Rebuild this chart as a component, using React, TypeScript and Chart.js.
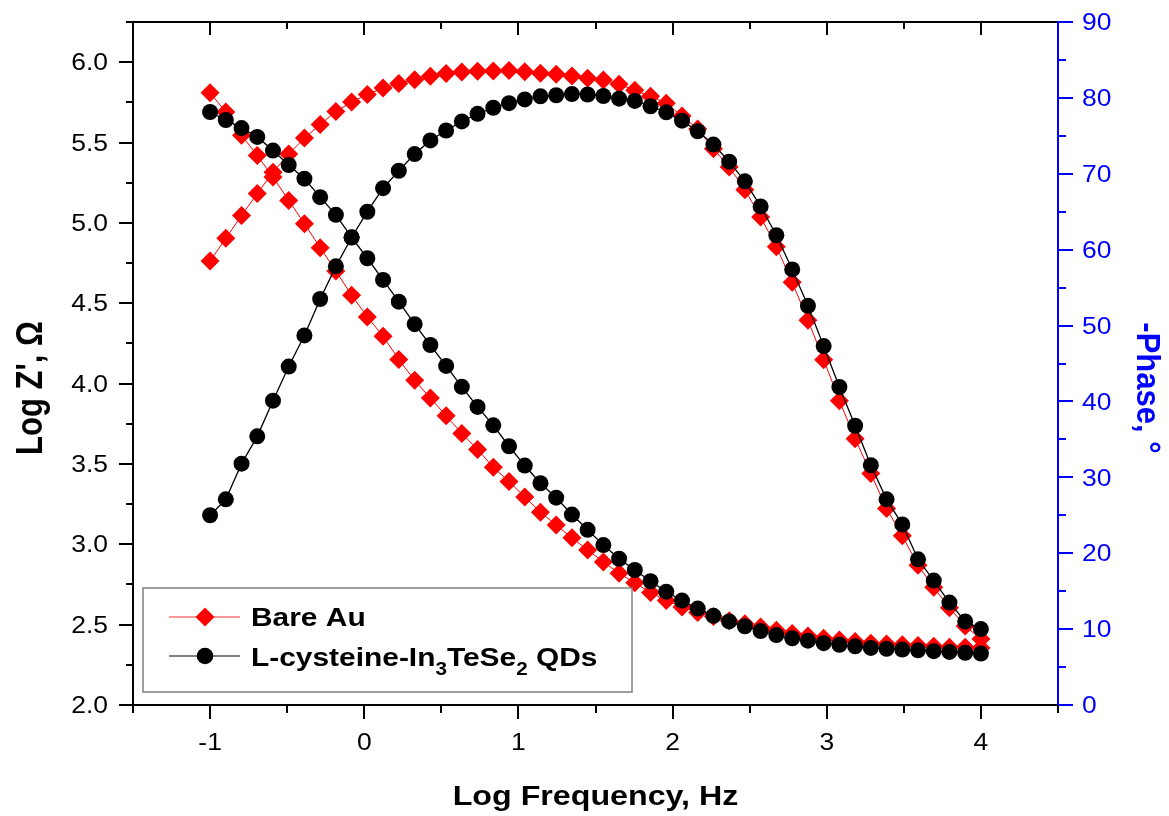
import React, { useEffect, useRef } from "react";
import { Chart, registerables } from "chart.js";

Chart.register(...registerables);

// Log frequency (Hz), 50 points from 0.1 Hz to 10 kHz
const logFreq: number[] = [
  -1.0, -0.898, -0.796, -0.694, -0.592, -0.49, -0.388, -0.286, -0.184, -0.082,
  0.02, 0.122, 0.224, 0.327, 0.429, 0.531, 0.633, 0.735, 0.837, 0.939,
  1.041, 1.143, 1.245, 1.347, 1.449, 1.551, 1.653, 1.755, 1.857, 1.959,
  2.061, 2.163, 2.265, 2.367, 2.469, 2.571, 2.673, 2.776, 2.878, 2.98,
  3.082, 3.184, 3.286, 3.388, 3.49, 3.592, 3.694, 3.796, 3.898, 4.0,
];

// Bare Au: Log Z' (left axis)
const bareAuLogZ: number[] = [
  5.81, 5.69, 5.545, 5.42, 5.285, 5.14, 4.995, 4.846, 4.7, 4.55,
  4.415, 4.295, 4.15, 4.02, 3.91, 3.8, 3.69, 3.59, 3.48, 3.39,
  3.295, 3.2, 3.12, 3.04, 2.965, 2.89, 2.82, 2.76, 2.7, 2.65,
  2.61, 2.575, 2.55, 2.525, 2.505, 2.485, 2.465, 2.445, 2.43, 2.415,
  2.405, 2.395, 2.385, 2.38, 2.375, 2.37, 2.365, 2.36, 2.36, 2.355,
];

// Bare Au: -Phase (right axis)
const bareAuPhase: number[] = [
  58.5, 61.5, 64.5, 67.4, 70.2, 72.6, 74.7, 76.5, 78.2, 79.45,
  80.45, 81.3, 81.9, 82.4, 82.85, 83.2, 83.4, 83.5, 83.55, 83.6,
  83.45, 83.25, 83.1, 82.9, 82.6, 82.35, 81.8, 81.0, 80.2, 79.3,
  77.6, 75.9, 73.3, 70.9, 67.9, 64.3, 60.4, 55.7, 50.7, 45.5,
  40.1, 35.1, 30.5, 25.9, 22.3, 18.4, 15.5, 12.8, 10.4, 8.7,
];

// L-cysteine-In3TeSe2 QDs: Log Z' (left axis)
const qdLogZ: number[] = [
  5.69, 5.64, 5.59, 5.535, 5.45, 5.36, 5.275, 5.16, 5.05, 4.91,
  4.78, 4.645, 4.51, 4.37, 4.24, 4.11, 3.98, 3.855, 3.74, 3.61,
  3.49, 3.38, 3.29, 3.185, 3.09, 2.995, 2.91, 2.84, 2.77, 2.705,
  2.65, 2.6, 2.555, 2.52, 2.49, 2.46, 2.435, 2.415, 2.4, 2.385,
  2.375, 2.365, 2.355, 2.35, 2.345, 2.34, 2.335, 2.33, 2.325, 2.32,
];

// L-cysteine-In3TeSe2 QDs: -Phase (right axis)
const qdPhase: number[] = [
  25.0, 27.1, 31.8, 35.4, 40.1, 44.6, 48.7, 53.5, 57.8, 61.6,
  65.0, 68.1, 70.4, 72.6, 74.4, 75.7, 76.9, 77.9, 78.7, 79.3,
  79.8, 80.2, 80.35, 80.5, 80.45, 80.25, 79.9, 79.6, 78.9, 78.1,
  77.0, 75.6, 73.85, 71.6, 69.0, 65.7, 61.9, 57.4, 52.6, 47.3,
  41.9, 36.8, 31.6, 27.1, 23.8, 19.2, 16.4, 13.5, 11.0, 10.0,
];

const xMajorTicks: number[] = [-1, 0, 1, 2, 3, 4];
const xMinorTicks: number[] = [-1.5, -0.5, 0.5, 1.5, 2.5, 3.5, 4.5];
const xTickLabels: string[] = ["-1", "0", "1", "2", "3", "4"];
const yLeftMajor: number[] = [2.0, 2.5, 3.0, 3.5, 4.0, 4.5, 5.0, 5.5, 6.0];
const yLeftMinor: number[] = [2.25, 2.75, 3.25, 3.75, 4.25, 4.75, 5.25, 5.75, 6.25];
const yLeftLabels: string[] = ["2.0", "2.5", "3.0", "3.5", "4.0", "4.5", "5.0", "5.5", "6.0"];
const yRightMajor: number[] = [0, 10, 20, 30, 40, 50, 60, 70, 80, 90];
const yRightMinor: number[] = [5, 15, 25, 35, 45, 55, 65, 75, 85];
const yRightLabels: string[] = ["0", "10", "20", "30", "40", "50", "60", "70", "80", "90"];

const xTitle = "Log Frequency, Hz";
const yLeftTitle = "Log Z', \u03A9";
const yRightTitle = "-Phase, \u00B0";
const bareLabel = "Bare Au";

const FONT = '"Liberation Sans", Arial, sans-serif';
const SX = 1.15;

function drawText(
  ctx: CanvasRenderingContext2D,
  text: string,
  x: number,
  y: number,
  align: CanvasTextAlign,
  font: string,
  color: string,
  sx = SX,
  rot = 0
) {
  ctx.save();
  ctx.translate(x, y);
  ctx.scale(sx, 1);
  if (rot) ctx.rotate(rot);
  ctx.font = font;
  ctx.fillStyle = color;
  ctx.textAlign = align;
  ctx.textBaseline = "alphabetic";
  ctx.fillText(text, 0, 0);
  ctx.restore();
}

function textWidth(ctx: CanvasRenderingContext2D, text: string, font: string, sx = SX) {
  ctx.save();
  ctx.font = font;
  const w = ctx.measureText(text).width * sx;
  ctx.restore();
  return w;
}

const originAxes = {
  id: "originAxes",
  afterDatasetsDraw(chart: any) {
    const { ctx, chartArea: a, scales } = chart;
    const xs = scales.x;
    const yl = scales.y;
    const yr = scales.y1;
    const L = Math.round(a.left);
    const R = Math.round(a.right);
    const T = Math.round(a.top);
    const B = Math.round(a.bottom);

    ctx.save();
    ctx.lineCap = "butt";
    ctx.lineWidth = 2;

    const seg = (x1: number, y1: number, x2: number, y2: number, c: string) => {
      ctx.strokeStyle = c;
      ctx.beginPath();
      ctx.moveTo(x1, y1);
      ctx.lineTo(x2, y2);
      ctx.stroke();
    };

    // frame
    seg(L, T, R, T, "#000");
    seg(L - 1, B, R, B, "#000");
    seg(L, T - 1, L, B + 1, "#000");
    seg(R, T - 1, R, B + 1, "#0000FF");

    // x ticks (bottom outward, top inward)
    xMajorTicks.forEach((v) => {
      const px = Math.round(xs.getPixelForValue(v));
      seg(px, B, px, B + 14, "#000");
      seg(px, T, px, T + 13, "#000");
    });
    xMinorTicks.forEach((v) => {
      const px = Math.round(xs.getPixelForValue(v));
      seg(px, B, px, B + 8, "#000");
      if (px > L + 2 && px < R - 2) seg(px, T, px, T + 7, "#000");
    });

    // left ticks
    yLeftMajor.forEach((v) => {
      const py = Math.round(yl.getPixelForValue(v));
      seg(L - 14, py, L, py, "#000");
    });
    yLeftMinor.forEach((v) => {
      const py = Math.round(yl.getPixelForValue(v));
      seg(L - 7, py, L, py, "#000");
    });

    // right ticks
    yRightMajor.forEach((v) => {
      const py = Math.round(yr.getPixelForValue(v));
      seg(R, py, R + 15, py, "#0000FF");
    });
    yRightMinor.forEach((v) => {
      const py = Math.round(yr.getPixelForValue(v));
      seg(R, py, R + 8, py, "#0000FF");
    });

    // tick labels
    const tickFont = `23px ${FONT}`;
    xMajorTicks.forEach((v, i) => {
      const px = xs.getPixelForValue(v);
      drawText(ctx, xTickLabels[i], px, B + 45, "center", tickFont, "#000");
    });
    yLeftMajor.forEach((v, i) => {
      const py = yl.getPixelForValue(v);
      drawText(ctx, yLeftLabels[i], L - 25, py + 8.2, "right", tickFont, "#000");
    });
    yRightMajor.forEach((v, i) => {
      const py = yr.getPixelForValue(v);
      drawText(ctx, yRightLabels[i], R + 24, py + 8.2, "left", tickFont, "#0000FF");
    });

    // axis titles
    drawText(ctx, xTitle, (L + R) / 2, 805, "center", `bold 28px ${FONT}`, "#000");
    drawText(ctx, yLeftTitle, 42, 388, "center", `bold 31px ${FONT}`, "#000", 1.2, -Math.PI / 2);
    drawText(ctx, yRightTitle, 1137, 388, "center", `bold 31px ${FONT}`, "#0000FF", 1.05, Math.PI / 2);

    // legend
    const bx = 143, by = 588, bw = 489, bh = 104;
    ctx.fillStyle = "#fff";
    ctx.fillRect(bx, by, bw, bh);
    ctx.lineWidth = 1.5;
    ctx.strokeStyle = "#808080";
    ctx.strokeRect(bx, by, bw, bh);

    const r1 = 617, r2 = 656;
    ctx.lineWidth = 1;
    seg(169, r1, 240, r1, "#FF3030");
    ctx.lineWidth = 1;
    seg(169, r2, 240, r2, "#000");
    // diamond
    ctx.fillStyle = "#FF0000";
    ctx.beginPath();
    ctx.moveTo(205 - 9.5, r1);
    ctx.lineTo(205, r1 - 9.5);
    ctx.lineTo(205 + 9.5, r1);
    ctx.lineTo(205, r1 + 9.5);
    ctx.closePath();
    ctx.fill();
    // circle
    ctx.fillStyle = "#000";
    ctx.beginPath();
    ctx.arc(205, r2, 8.3, 0, Math.PI * 2);
    ctx.fill();

    const lf = `bold 26px ${FONT}`;
    const sf = `bold 18px ${FONT}`;
    drawText(ctx, bareLabel, 251, r1 + 9, "left", lf, "#000");
    const parts: [string, boolean][] = [
      ["L-cysteine-In", false],
      ["3", true],
      ["TeSe", false],
      ["2", true],
      [" QDs", false],
    ];
    let cx = 251;
    parts.forEach(([t, sub]) => {
      const f = sub ? sf : lf;
      drawText(ctx, t, cx, sub ? r2 + 19 : r2 + 10, "left", f, "#000");
      cx += textWidth(ctx, t, f);
    });

    ctx.restore();
  },
};

export default function App() {
  const ref = useRef<HTMLCanvasElement>(null);

  useEffect(() => {
    const canvas = ref.current;
    if (!canvas) return;
    const toXY = (ys: number[]) => logFreq.map((x, i) => ({ x, y: ys[i] }));
    const chart = new Chart(canvas, {
      type: "line",
      data: {
        datasets: [
          {
            label: "Bare Au Z",
            data: toXY(bareAuLogZ),
            yAxisID: "y",
            borderColor: "#FF0000",
            backgroundColor: "#FF0000",
            borderWidth: 1,
            pointStyle: "rectRot",
            pointRadius: 9.5,
            pointBorderWidth: 0,
            order: 2,
          },
          {
            label: "Bare Au Phase",
            data: toXY(bareAuPhase),
            yAxisID: "y1",
            borderColor: "#FF0000",
            backgroundColor: "#FF0000",
            borderWidth: 1,
            pointStyle: "rectRot",
            pointRadius: 9.5,
            pointBorderWidth: 0,
            order: 2,
          },
          {
            label: "QD Z",
            data: toXY(qdLogZ),
            yAxisID: "y",
            borderColor: "#000000",
            backgroundColor: "#000000",
            borderWidth: 1.3,
            pointStyle: "circle",
            pointRadius: 8,
            pointBorderWidth: 0,
            order: 1,
          },
          {
            label: "QD Phase",
            data: toXY(qdPhase),
            yAxisID: "y1",
            borderColor: "#000000",
            backgroundColor: "#000000",
            borderWidth: 1.3,
            pointStyle: "circle",
            pointRadius: 8,
            pointBorderWidth: 0,
            order: 1,
          },
        ],
      },
      options: {
        responsive: false,
        maintainAspectRatio: false,
        devicePixelRatio: 1,
        animation: false,
        layout: { padding: { left: 133, top: 22, right: 111, bottom: 111 } },
        plugins: { legend: { display: false }, tooltip: { enabled: false } },
        elements: { line: { tension: 0 } },
        scales: {
          x: { type: "linear", min: -1.5, max: 4.5, display: false },
          y: { type: "linear", position: "left", min: 2, max: 6.25, display: false },
          y1: { type: "linear", position: "right", min: 0, max: 90, display: false },
        },
      },
      plugins: [originAxes],
    });
    return () => chart.destroy();
  }, []);

  return (
    <div style={{ position: "fixed", left: 0, top: 0, width: 1169, height: 816, background: "#ffffff" }}>
      <canvas ref={ref} width={1169} height={816} style={{ width: 1169, height: 816, display: "block" }} />
    </div>
  );
}
